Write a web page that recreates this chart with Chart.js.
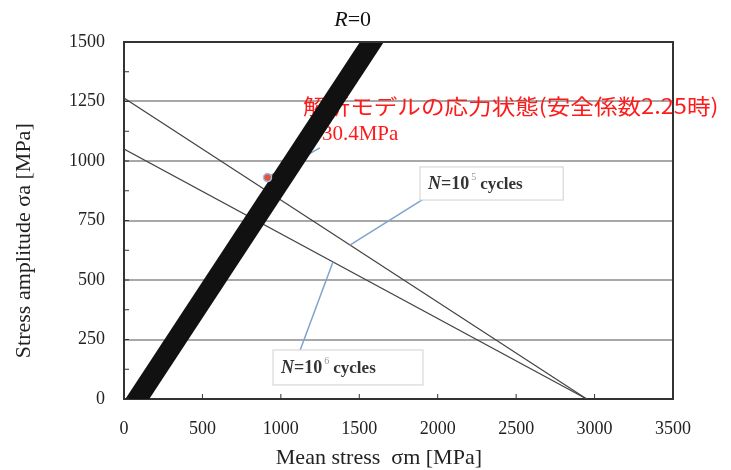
<!DOCTYPE html>
<html>
<head>
<meta charset="utf-8">
<script src="https://cdn.jsdelivr.net/npm/chart.js@4.4.0/dist/chart.umd.min.js"></script>
<style>
  html, body { margin: 0; padding: 0; background: #fff; }
  #wrap { width: 731px; height: 470px; }
</style>
</head>
<body>
<div id="wrap"><canvas id="chart"></canvas></div>
<script>
// R=0 load line (thick band), runs past the plot edges and gets clipped
const r0Mean = [5, 1680];
const r0Amp = [-80, 1600];
// fatigue limit lines
const n5Mean = [0, 2950];
const n5Amp = [1265, 0];
const n6Mean = [0, 2950];
const n6Amp = [1050, 0];
// stress state of the analysis model
const designMean = [915];
const designAmp = [930.4];
// leader lines (from, to)
const lead5Mean = [1440, 2033];
const lead5Amp = [647, 891];
const lead6Mean = [1332, 1071];
const lead6Amp = [576, 113];
const leadRedMean = [918, 1249];
const leadRedAmp = [933, 1055];

const xTicks = [0, 500, 1000, 1500, 2000, 2500, 3000, 3500];
const yTicks = [0, 250, 500, 750, 1000, 1250, 1500];
const yMinorTicks = [125, 375, 625, 875, 1125, 1375];

const serif = '"Liberation Serif", "DejaVu Serif", serif';

function pts(xs, ys) {
    return xs.map((x, i) => ({ x: x, y: ys[i] }));
}

const annotations = {
    id: 'annotations',
    beforeDatasetsDraw(chart) {
        const ctx = chart.ctx;
        const x = chart.scales.x, y = chart.scales.y;
        ctx.save();
        ctx.fillStyle = '#ff1a1a';
        ctx.textBaseline = 'middle';
        ctx.textAlign = 'left';
        // main red note, stretched to the width it has in the original
        const label = '解析モデルの応力状態(安全係数2.25時)';
        const lx = x.getPixelForValue(1141), ly = y.getPixelForValue(1231);
        ctx.font = '21px "Noto Sans CJK JP"';
        const want = x.getPixelForValue(3790) - lx;
        const sx = want / ctx.measureText(label).width;
        ctx.save();
        ctx.translate(lx, ly);
        ctx.scale(sx, 1);
        ctx.fillText(label, 0, 0);
        ctx.restore();
        ctx.font = '21px ' + serif;
        ctx.fillText('930.4MPa', x.getPixelForValue(1195), y.getPixelForValue(1113));
        ctx.restore();
    },
    afterDatasetsDraw(chart) {
        const ctx = chart.ctx;
        const a = chart.chartArea;
        const x = chart.scales.x, y = chart.scales.y;
        ctx.save();
        // frame right/top
        ctx.strokeStyle = '#333';
        ctx.lineWidth = 2;
        ctx.beginPath();
        ctx.moveTo(a.left, a.top);
        ctx.lineTo(a.right, a.top);
        ctx.lineTo(a.right, a.bottom);
        ctx.stroke();
        // small inner ticks
        ctx.lineWidth = 1;
        xTicks.forEach(v => {
            const px = x.getPixelForValue(v);
            ctx.beginPath();
            ctx.moveTo(px, a.bottom);
            ctx.lineTo(px, a.bottom - 5);
            ctx.stroke();
        });
        yTicks.concat(yMinorTicks).forEach(v => {
            const py = y.getPixelForValue(v);
            ctx.beginPath();
            ctx.moveTo(a.left, py);
            ctx.lineTo(a.left + 5, py);
            ctx.stroke();
        });
        // R=0 label
        ctx.fillStyle = '#111';
        ctx.textBaseline = 'middle';
        ctx.textAlign = 'left';
        ctx.font = 'italic 22px ' + serif;
        const rx = x.getPixelForValue(1340);
        ctx.fillText('R', rx, a.top - 22);
        const rw = ctx.measureText('R').width;
        ctx.font = '22px ' + serif;
        ctx.fillText('=0', rx + rw, a.top - 22);
        // axis titles
        ctx.fillStyle = '#222';
        ctx.textAlign = 'center';
        ctx.font = '22px ' + serif;
        ctx.fillText('Mean stress  σm [MPa]', x.getPixelForValue(1625), a.bottom + 59);
        ctx.save();
        ctx.translate(24, y.getPixelForValue(665));
        ctx.rotate(-Math.PI / 2);
        ctx.fillText('Stress amplitude σa [MPa]', 0, 0);
        ctx.restore();
        // cycle label boxes
        drawBox(ctx, x, y, 1887, 2800, 975, 836, '5');
        drawBox(ctx, x, y, 950, 1906, 206, 59, '6');
        ctx.restore();
    }
};

function drawBox(ctx, x, y, x0, x1, y0, y1, exp) {
    const l = x.getPixelForValue(x0), r = x.getPixelForValue(x1);
    const t = y.getPixelForValue(y0), b = y.getPixelForValue(y1);
    ctx.fillStyle = '#fff';
    ctx.fillRect(l, t, r - l, b - t);
    ctx.strokeStyle = '#d0d0d0';
    ctx.lineWidth = 1;
    ctx.strokeRect(l, t, r - l, b - t);
    let cx = l + 8;
    const cy = (t + b) / 2 + 1;
    ctx.fillStyle = '#333';
    ctx.textBaseline = 'middle';
    ctx.textAlign = 'left';
    ctx.font = 'italic bold 18px ' + serif;
    ctx.fillText('N', cx, cy);
    cx += ctx.measureText('N').width;
    ctx.font = 'bold 18px ' + serif;
    ctx.fillText('=10', cx, cy);
    cx += ctx.measureText('=10').width;
    ctx.font = '10px ' + serif;
    ctx.fillStyle = '#999';
    ctx.fillText(exp, cx + 2, cy - 7);
    cx += ctx.measureText(exp).width + 6;
    ctx.fillStyle = '#333';
    ctx.font = 'bold 17px ' + serif;
    ctx.fillText('cycles', cx, cy);
}

const leaderStyle = {
    type: 'line', borderColor: '#7fa3cf', borderWidth: 1.5,
    pointRadius: 0, showLine: true, fill: false
};

new Chart(document.getElementById('chart'), {
    type: 'scatter',
    data: {
        datasets: [
            {
                label: 'design', data: pts(designMean, designAmp),
                backgroundColor: '#e8503a', borderColor: '#9cc0e0', borderWidth: 1.5,
                pointRadius: 4, order: 0
            },
            {
                label: 'R=0', type: 'line', data: pts(r0Mean, r0Amp),
                borderColor: '#111', borderWidth: 20, borderCapStyle: 'butt',
                pointRadius: 0, fill: false, clip: 0, order: 1
            },
            Object.assign({ label: 'leadRed', data: pts(leadRedMean, leadRedAmp), order: 2 }, leaderStyle),
            Object.assign({ label: 'lead5', data: pts(lead5Mean, lead5Amp), order: 2 }, leaderStyle),
            Object.assign({ label: 'lead6', data: pts(lead6Mean, lead6Amp), order: 2 }, leaderStyle),
            {
                label: 'N=10^5', type: 'line', data: pts(n5Mean, n5Amp),
                borderColor: '#444', borderWidth: 1.2, pointRadius: 0, fill: false, order: 3
            },
            {
                label: 'N=10^6', type: 'line', data: pts(n6Mean, n6Amp),
                borderColor: '#444', borderWidth: 1.2, pointRadius: 0, fill: false, order: 3
            }
        ]
    },
    options: {
        responsive: true,
        maintainAspectRatio: false,
        animation: false,
        layout: { padding: { top: 42, right: 58, left: 0, bottom: 0 } },
        plugins: { legend: { display: false }, tooltip: { enabled: false } },
        scales: {
            x: {
                type: 'linear', min: 0, max: 3500,
                afterBuildTicks: s => { s.ticks = xTicks.map(v => ({ value: v })); },
                afterFit: s => { s.height = 71; },
                grid: { display: false },
                border: { display: true, color: '#333', width: 2 },
                ticks: {
                    color: '#222', padding: 11, font: { family: serif, size: 18 },
                    callback: v => String(v)
                }
            },
            y: {
                type: 'linear', min: 0, max: 1500,
                afterBuildTicks: s => { s.ticks = yTicks.map(v => ({ value: v })); },
                afterFit: s => { s.width = 124; },
                grid: { color: '#a8a8a8', lineWidth: 2, drawTicks: false },
                border: { display: true, color: '#333', width: 2 },
                ticks: {
                    color: '#222', padding: 19, font: { family: serif, size: 18 },
                    callback: v => String(v)
                }
            }
        }
    },
    plugins: [annotations]
});
</script>
</body>
</html>
